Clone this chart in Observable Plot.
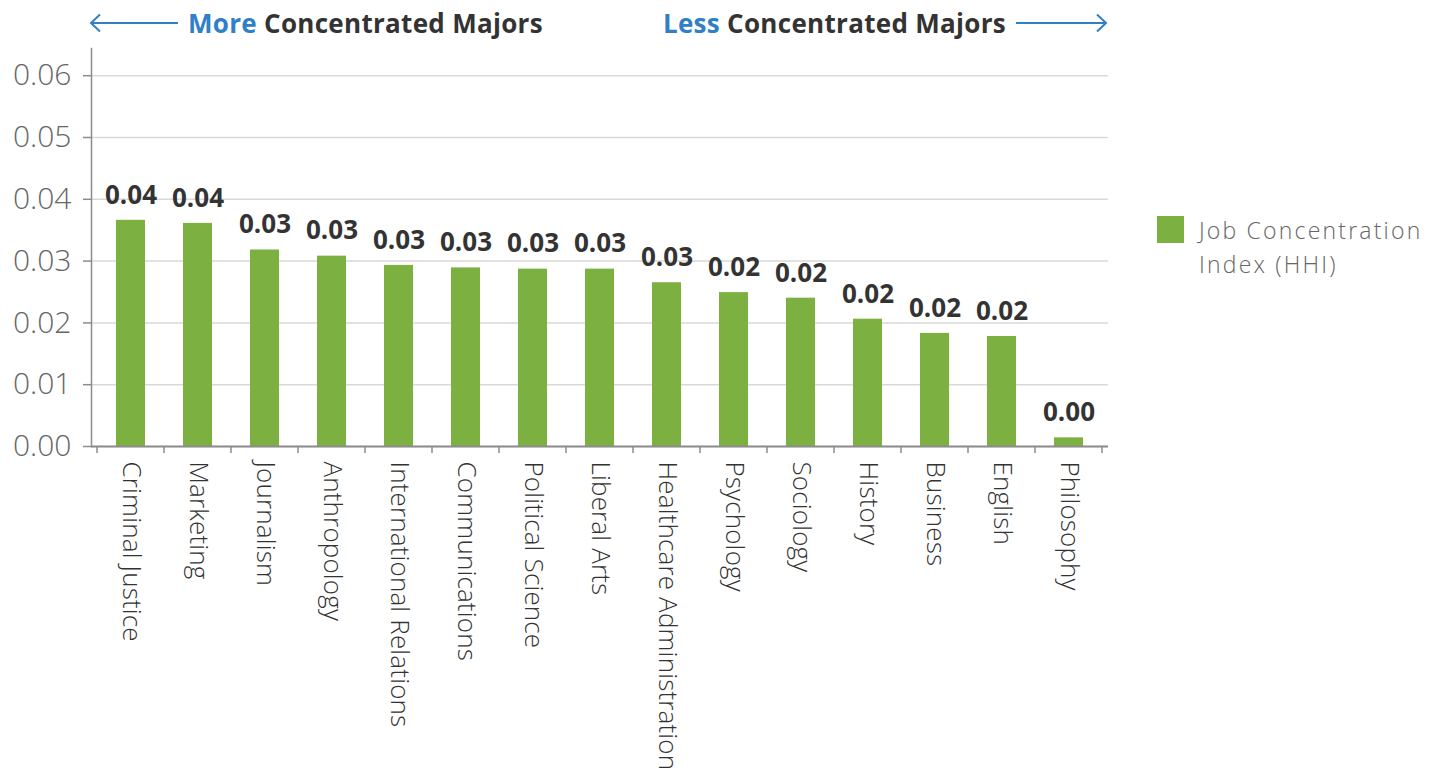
<!DOCTYPE html>
<html>
<head>
<meta charset="utf-8">
<script src="https://cdn.jsdelivr.net/npm/d3@7"></script>
<script src="https://cdn.jsdelivr.net/npm/@observablehq/plot@0.6"></script>
<style>
  body { margin: 0; background: #fff; font-family: "Open Sans", sans-serif; }
  #wrap { position: relative; width: 1441px; height: 779px; overflow: hidden; background: #fff; }
  #header { position: relative; height: 40px; }
  .hdr { position: absolute; top: 10px; font-weight: 700; font-size: 26px; color: #333; white-space: nowrap;
         display: flex; align-items: center; line-height: 1; letter-spacing: 0.3px; }
  .hdr .hl { color: #2f80c6; }
  .hdr svg { display: block; }
  #legend { position: absolute; left: 1157px; top: 216px; display: flex; align-items: flex-start; }
  #legend .sw { width: 27px; height: 27px; background: #7cb041; flex: none; }
  #legend .lt { margin-left: 15px; margin-top: -3px; font-size: 23px; line-height: 34px; color: #666;
                letter-spacing: 2.2px; font-weight: 300; }
</style>
</head>
<body>
<div id="wrap">
  <div id="header">
    <div class="hdr" style="left:89px;">
      <svg width="90" height="20" viewBox="0 0 90 20"><line x1="2" y1="10" x2="89" y2="10" stroke="#2f80c6" stroke-width="2"/><polyline points="11,1.5 2,10 11,18.5" fill="none" stroke="#2f80c6" stroke-width="2"/></svg>
      <span style="margin-left:9px;"><span class="hl">More</span> Concentrated Majors</span>
    </div>
    <div class="hdr" style="right:333px;">
      <span style="margin-right:10px;"><span class="hl">Less</span> Concentrated Majors</span>
      <svg width="92" height="20" viewBox="0 0 92 20"><line x1="0" y1="10" x2="90" y2="10" stroke="#2f80c6" stroke-width="2"/><polyline points="81,1.5 90,10 81,18.5" fill="none" stroke="#2f80c6" stroke-width="2"/></svg>
    </div>
  </div>
  <div id="chart"></div>
  <div id="legend"><div class="sw"></div><div class="lt">Job Concentration<br>Index (HHI)</div></div>
</div>
<script>
const majors = ["Criminal Justice", "Marketing", "Journalism", "Anthropology", "International Relations",
  "Communications", "Political Science", "Liberal Arts", "Healthcare Administration", "Psychology",
  "Sociology", "History", "Business", "English", "Philosophy"];
const hhi = [0.0366, 0.0361, 0.0318, 0.0308, 0.0293, 0.0289, 0.0287, 0.0287, 0.0265, 0.0249,
  0.0240, 0.0206, 0.0183, 0.0178, 0.0014];
const yTicks = [0, 0.01, 0.02, 0.03, 0.04, 0.05, 0.06];

const data = majors.map((m, i) => ({ major: m, hhi: hhi[i] }));
const fmt = d3.format(".2f");

function bandEdges(index, scales) {
  const x = scales.x;
  const step = typeof x.step === "function" ? x.step() : 0;
  const bw = typeof x.bandwidth === "function" ? x.bandwidth() : 0;
  const pad = (step - bw) / 2;
  const y0 = scales.y(0);
  const edges = majors.map(m => x(m) - pad);
  edges.push(x(majors[majors.length - 1]) + bw + pad);
  const g = d3.create("svg:g");
  g.selectAll("line").data(edges).join("line")
    .attr("x1", d => d).attr("x2", d => d)
    .attr("y1", y0).attr("y2", y0 + 7)
    .attr("stroke", "#8c8c8c").attr("stroke-width", 1.5);
  return g.node();
}

const chart = Plot.plot({
  width: 1130,
  height: 739,
  marginLeft: 91,
  marginRight: 22,
  marginTop: 8,
  marginBottom: 333,
  style: { fontFamily: '"Open Sans", sans-serif', background: "#fff", overflow: "visible" },
  x: { domain: majors, paddingInner: 0.56, paddingOuter: 0.28, label: null },
  y: { domain: [0, 0.0644], label: null },
  marks: [
    Plot.gridY(yTicks, { stroke: "#d9d9d9", strokeOpacity: 1, strokeWidth: 1.5 }),
    Plot.barY(data, { x: "major", y: "hhi", fill: "#7cb041" }),
    Plot.text(data, { x: "major", y: "hhi", text: d => fmt(d.hhi), dy: -25, fontWeight: 700,
      fontSize: 26, fill: "#333" }),
    Plot.frame({ anchor: "left", stroke: "#8c8c8c", strokeWidth: 1.5 }),
    Plot.ruleY([0], { stroke: "#8c8c8c", strokeWidth: 2 }),
    Plot.axisY(yTicks, { tickFormat: ".2f", tickSize: 8, tickPadding: 12, fontSize: 30,
      fill: "#666", stroke: "#8c8c8c", strokeWidth: 1.5, fontWeight: 300, label: null }),
    Plot.axisX({ tickSize: 0, tickRotate: 90, tickPadding: 15, fontSize: 26, fill: "#333",
      fontWeight: 300, label: null }),
    bandEdges
  ]
});
chart.querySelectorAll("[aria-label='x-axis tick label'] text").forEach(t => t.style.letterSpacing = "0.15px");
document.getElementById("chart").appendChild(chart);
</script>
</body>
</html>
